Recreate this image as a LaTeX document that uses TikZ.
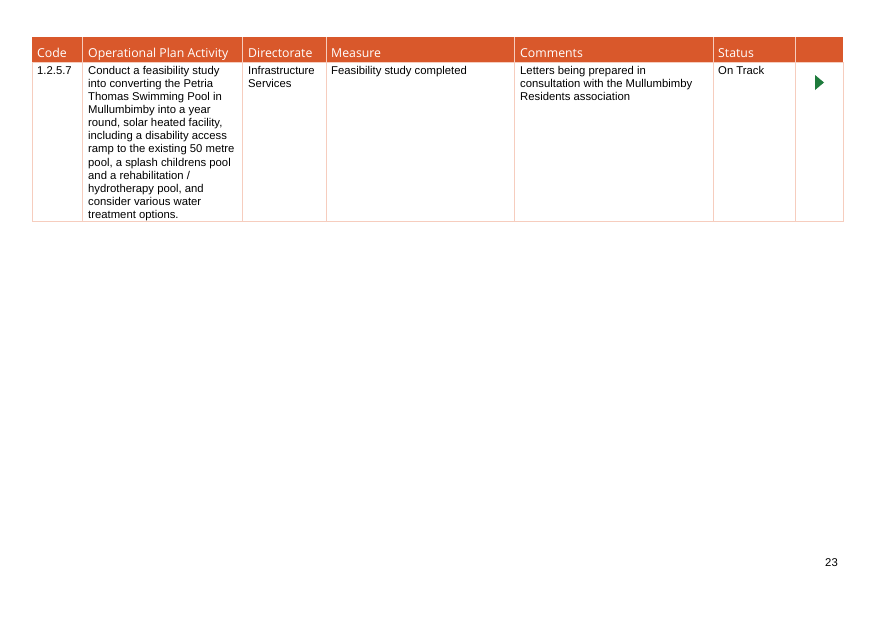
\documentclass[tikz,border=0pt]{standalone}
\usepackage{fontspec}
\setmainfont{Liberation Sans}
\newfontfamily\headfont{Open Sans}
\definecolor{hdr}{HTML}{D9582B}
\definecolor{grid}{HTML}{F6CDBE}
\definecolor{trk}{HTML}{1E7B3C}
\begin{document}
\begin{tikzpicture}[x=1pt,y=-1pt,
  hd/.style={anchor=base west,inner sep=0pt,text=white,font=\headfont\fontsize{12.3pt}{14pt}\selectfont},
  bd/.style={anchor=north west,inner sep=0pt,align=left,font=\fontsize{11.3pt}{13.1pt}\selectfont}]
\useasboundingbox (0,0) rectangle (875,619);
\fill[hdr] (32,37) rectangle (843,62);
\draw[grid,line width=0.8pt] (32,62) -- (32,221) -- (843,221) -- (843,62);
\foreach \x in {82,242,326,514,713,795}{
  \draw[grid,line width=0.8pt] (\x,37) -- (\x,221);
}
\draw[grid,line width=0.8pt] (32,62) -- (843,62);
\node[hd] (h1) at (37,57) {Code};
\node[hd] (h2) at (88,57) {Operational Plan Activity};
\node[hd] (h3) at (248,57) {Directorate};
\node[hd] (h4) at (331,57) {Measure};
\node[hd] (h5) at (520,57) {Comments};
\node[hd] (h6) at (718,57) {Status};
\node[bd] (c1) at (37,66) {1.2.5.7};
\node[bd] (c2) at (88,66) {Conduct a feasibility study\\into converting the Petria\\Thomas Swimming Pool in\\Mullumbimby into a year\\round, solar heated facility,\\including a disability access\\ramp to the existing 50 metre\\pool, a splash childrens pool\\and a rehabilitation /\\hydrotherapy pool, and\\consider various water\\treatment options.};
\node[bd] (c3) at (248,66) {Infrastructure\\Services};
\node[bd] (c4) at (331,66) {Feasibility study completed};
\node[bd] (c5) at (520,66) {Letters being prepared in\\consultation with the Mullumbimby\\Residents association};
\node[bd] (c6) at (718,66) {On Track};
\fill[trk] (815,75) -- (824,82.5) -- (815,90) -- cycle;
\node[anchor=base east,inner sep=0pt,font=\fontsize{11.3pt}{13pt}\selectfont] (pg) at (838,566) {23};
\end{tikzpicture}
\end{document}
